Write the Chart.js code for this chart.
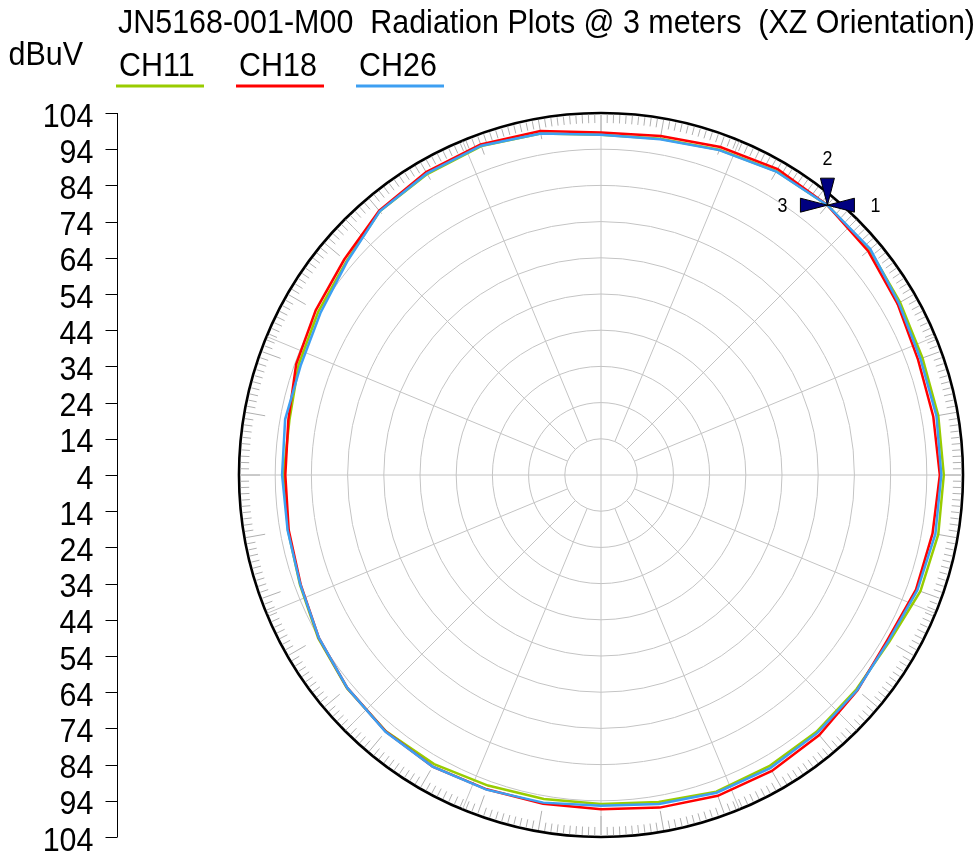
<!DOCTYPE html>
<html>
<head>
<meta charset="utf-8">
<script src="https://cdn.jsdelivr.net/npm/chart.js@4.4.0/dist/chart.umd.min.js"></script>
<style>
  html, body { margin: 0; padding: 0; background: #fff; }
  #wrap { width: 979px; height: 857px; }
</style>
</head>
<body>
<div id="wrap"><canvas id="radiationChart" width="979" height="857"></canvas></div>
<script>
const titleText = 'JN5168-001-M00  Radiation Plots @ 3 meters  (XZ Orientation)';
const unitLabel = 'dBuV';
const seriesNames = ['CH11', 'CH18', 'CH26'];
const seriesColors = ['#99cc00', '#ff0000', '#3d9ff2'];

// degrees, counter-clockwise from the right-hand side
const angles = [0, 10, 20, 30, 40, 50, 60, 70, 80, 90, 100, 110, 120, 130, 140, 150, 160, 170,
                180, 190, 200, 210, 220, 230, 240, 250, 260, 270, 280, 290, 300, 310, 320, 330, 340, 350];

const ch11 = [98.7, 98.6, 98.5, 99.4, 100.9, 101.3, 100.9, 99.6, 98.3, 98.0, 99.8, 100.7,
              100.0, 99.1, 95.8, 94.2, 92.9, 91.4, 91.7, 91.8, 92.5, 94.2, 95.6, 96.4,
              96.2, 95.3, 94.9, 94.9, 95.7, 97.1, 96.9, 96.6, 96.1, 96.0, 97.9, 98.6];
const ch18 = [97.6, 97.2, 97.2, 98.6, 100.3, 101.3, 101.6, 100.4, 99.1, 98.6, 100.5, 101.2,
              100.6, 99.3, 96.6, 95.0, 93.6, 91.7, 91.2, 91.6, 92.3, 94.0, 95.5, 96.5,
              97.0, 96.4, 96.2, 96.3, 97.3, 98.3, 98.4, 97.8, 96.5, 95.3, 96.6, 97.0];
const ch26 = [98.0, 98.1, 97.9, 99.0, 101.1, 101.3, 100.8, 99.5, 98.2, 98.0, 99.8, 100.8,
              100.2, 99.1, 95.6, 93.5, 92.3, 92.6, 92.1, 91.9, 92.4, 94.0, 95.5, 96.6,
              97.0, 96.5, 95.9, 95.4, 96.3, 97.4, 97.5, 97.0, 96.4, 95.7, 97.0, 97.8];

const axisTicks = [104, 94, 84, 74, 64, 54, 44, 34, 24, 14, 4];
const markerAngle = 50;
const markerLabels = ['1', '2', '3'];

// Chart.js goes clockwise from the start angle, the plot goes counter-clockwise
function toClockwise(arr) {
    return arr.map((_, i) => arr[(arr.length - i) % arr.length]);
}

const FONT = '34px "Liberation Sans", Arial, sans-serif';
let textScaleX = 0.86;

function drawText(ctx, str, x, y, align, font) {
    ctx.save();
    ctx.font = font || FONT;
    ctx.translate(x, y);
    ctx.scale(textScaleX, 1);
    ctx.textAlign = align || 'left';
    ctx.textBaseline = 'alphabetic';
    ctx.fillStyle = '#000';
    ctx.fillText(str, 0, 0);
    ctx.restore();
}

const polarDecor = {
    id: 'polarDecor',
    beforeDatasetsDraw(chart) {
        const s = chart.scales.r;
        const ctx = chart.ctx;
        const cx = s.xCenter, cy = s.yCenter, R = s.drawingArea;
        const rIn = s.getDistanceFromCenterForValue(14);

        ctx.save();
        ctx.font = FONT;
        textScaleX = 857 / ctx.measureText(titleText).width;

        // spokes every 22.5 degrees
        ctx.strokeStyle = '#c4c4c4';
        ctx.lineWidth = 1;
        for (let k = 0; k < 16; k++) {
            const a = k * Math.PI / 8;
            const r0 = (k % 4 === 0) ? 0 : rIn;
            ctx.beginPath();
            ctx.moveTo(cx + Math.cos(a) * r0, cy + Math.sin(a) * r0);
            ctx.lineTo(cx + Math.cos(a) * (R - 1), cy + Math.sin(a) * (R - 1));
            ctx.stroke();
        }
        // degree ticks round the rim
        ctx.strokeStyle = '#b0b0b0';
        for (let d = 0; d < 360; d++) {
            const a = d * Math.PI / 180;
            const r0 = d % 10 === 0 ? R - 21 : R - 10;
            ctx.beginPath();
            ctx.moveTo(cx + Math.cos(a) * r0, cy + Math.sin(a) * r0);
            ctx.lineTo(cx + Math.cos(a) * (R - 1.5), cy + Math.sin(a) * (R - 1.5));
            ctx.stroke();
        }
        ctx.restore();
    },
    afterDatasetsDraw(chart) {
        const ctx = chart.ctx;
        const idx = chart.data.labels.indexOf(markerAngle);
        const smallFont = '20px "Liberation Sans", Arial, sans-serif';
        markerLabels.forEach((lab, k) => {
            const el = chart.getDatasetMeta(k).data[idx];
            const x = el.x, y = el.y;
            ctx.save();
            ctx.fillStyle = '#000080';
            ctx.strokeStyle = '#000';
            ctx.lineWidth = 1;
            ctx.beginPath();
            ctx.moveTo(x, y);
            if (k === 0) {
                ctx.lineTo(x + 27, y - 7);
                ctx.lineTo(x + 27, y + 7);
            } else if (k === 1) {
                ctx.lineTo(x - 7, y - 27);
                ctx.lineTo(x + 7, y - 27);
            } else {
                ctx.lineTo(x - 27, y - 7);
                ctx.lineTo(x - 27, y + 7);
            }
            ctx.closePath();
            ctx.fill();
            ctx.stroke();
            ctx.restore();
            if (k === 0) drawText(ctx, lab, x + 48, y + 6.5, 'center', smallFont);
            else if (k === 1) drawText(ctx, lab, x, y - 40, 'center', smallFont);
            else drawText(ctx, lab, x - 45, y + 6.5, 'center', smallFont);
        });
    },
    afterDraw(chart) {
        const s = chart.scales.r;
        const ctx = chart.ctx;
        const cy = s.yCenter;
        const axisX = 117.5;

        // left value axis, mirrored about the centre
        ctx.save();
        ctx.strokeStyle = '#000';
        ctx.lineWidth = 1;
        const top = cy - s.getDistanceFromCenterForValue(axisTicks[0]);
        const bottom = cy + s.getDistanceFromCenterForValue(axisTicks[0]);
        ctx.beginPath();
        ctx.moveTo(axisX, top);
        ctx.lineTo(axisX, bottom);
        ctx.stroke();
        const positions = [];
        axisTicks.forEach(v => positions.push([v, cy - s.getDistanceFromCenterForValue(v)]));
        axisTicks.slice(0, -1).reverse().forEach(v => positions.push([v, cy + s.getDistanceFromCenterForValue(v)]));
        positions.forEach(([v, y]) => {
            const yy = Math.round(y) + 0.5;
            ctx.beginPath();
            ctx.moveTo(axisX - 12, yy);
            ctx.lineTo(axisX, yy);
            ctx.stroke();
            drawText(ctx, String(v), 93.5, y + 13.5, 'right');
        });
        ctx.restore();

        // title, unit and legend
        drawText(ctx, titleText, 118, 33);
        drawText(ctx, unitLabel, 8.5, 65);
        const legendX = [118, 238, 358];
        seriesNames.forEach((name, i) => {
            drawText(ctx, name, legendX[i] + 1, 76);
            ctx.save();
            ctx.strokeStyle = seriesColors[i];
            ctx.lineWidth = 3;
            ctx.beginPath();
            ctx.moveTo(legendX[i] - 2, 86);
            ctx.lineTo(legendX[i] + 86, 86);
            ctx.stroke();
            ctx.restore();
        });
    }
};

const seriesData = [ch11, ch18, ch26];

new Chart(document.getElementById('radiationChart').getContext('2d'), {
    type: 'radar',
    data: {
        labels: toClockwise(angles),
        datasets: seriesNames.map((name, i) => ({
            label: name,
            data: toClockwise(seriesData[i]),
            borderColor: seriesColors[i],
            backgroundColor: seriesColors[i],
            borderWidth: 2.5,
            pointRadius: 0,
            pointHoverRadius: 0,
            fill: false,
            tension: 0,
            order: 2 - i
        }))
    },
    options: {
        responsive: false,
        animation: false,
        layout: {
            padding: { left: 239, right: 16, top: 113, bottom: 20 }
        },
        plugins: {
            legend: { display: false },
            title: { display: false },
            tooltip: { enabled: false }
        },
        scales: {
            r: {
                min: 4,
                max: 104,
                startAngle: 90,
                ticks: { display: false, stepSize: 10 },
                pointLabels: { display: false },
                angleLines: { display: false },
                grid: {
                    circular: true,
                    color: c => (c.tick && c.tick.value === 104) ? '#000' : '#c4c4c4',
                    lineWidth: c => (c.tick && c.tick.value === 104) ? 2.6 : 1
                }
            }
        }
    },
    plugins: [polarDecor]
});
</script>
</body>
</html>
